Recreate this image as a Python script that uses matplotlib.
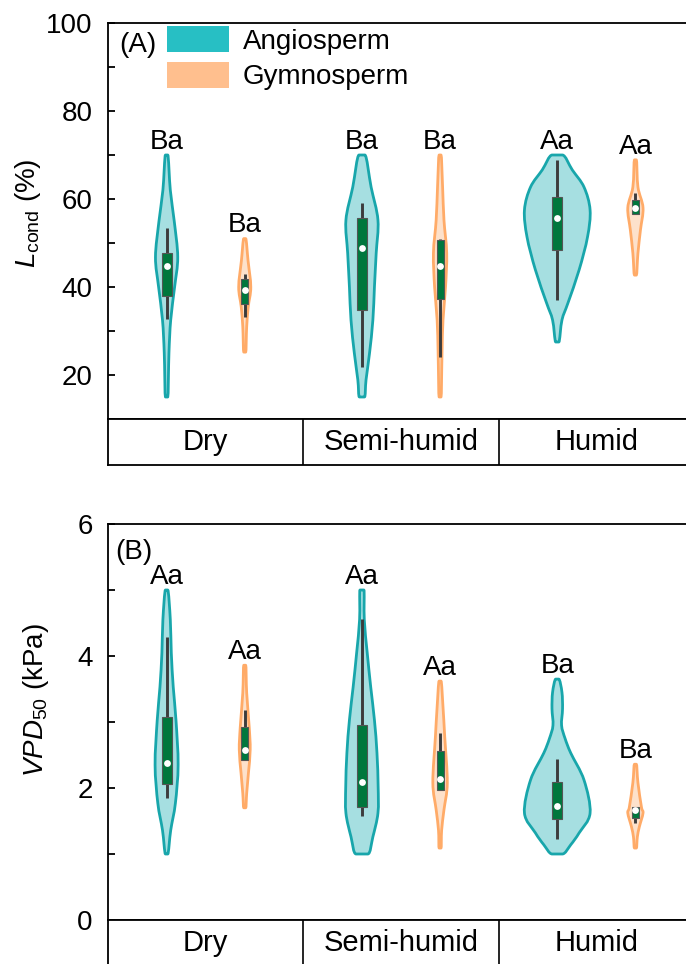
import matplotlib.pyplot as plt
import numpy as np
from matplotlib.path import Path
from matplotlib.patches import PathPatch, Patch
from matplotlib.ticker import MultipleLocator

plt.rcParams['font.family'] = ['Liberation Sans', 'DejaVu Sans']
plt.rcParams['mathtext.fontset'] = 'custom'
plt.rcParams['mathtext.rm'] = 'Liberation Sans'
plt.rcParams['mathtext.it'] = 'Liberation Sans:italic'

climates = ['Dry', 'Semi-humid', 'Humid']
groups = ['Angiosperm', 'Gymnosperm']

# order of violins: Dry-A, Dry-G, Semi-A, Semi-G, Humid-A, Humid-G
# density outline: levels and half widths
lcond_prof_y = [
    [15, 25, 32.5, 40, 46.8, 55, 62, 70],
    [25.2, 31, 35.5, 40, 46, 51],
    [15, 18.9, 25, 32.5, 40, 47.7, 55.2, 62.7, 70],
    [15, 25, 32.5, 40, 47.7, 55.2, 62.7, 70],
    [27.5, 32.5, 36.4, 43.9, 51.4, 57.5, 62.7, 66.6, 70],
    [42.7, 47.7, 53, 58, 62.7, 68.9],
]
lcond_prof_w = [
    [0.006, 0.012, 0.021, 0.041, 0.057, 0.039, 0.019, 0.006],
    [0.005, 0.01, 0.018, 0.031, 0.017, 0.005],
    [0.013, 0.021, 0.039, 0.056, 0.064, 0.073, 0.082, 0.047, 0.015],
    [0.005, 0.01, 0.015, 0.028, 0.034, 0.02, 0.013, 0.005],
    [0.008, 0.024, 0.055, 0.112, 0.155, 0.168, 0.137, 0.077, 0.026],
    [0.005, 0.013, 0.026, 0.039, 0.013, 0.005],
]
lcond_q1 = [38, 36.1, 34.8, 37.3, 48.4, 56.6]
lcond_q3 = [47.7, 41.8, 55.7, 50.7, 60.5, 59.8]
lcond_lo = [32.7, 33.2, 21.8, 24, 37, 56.6]
lcond_hi = [53.4, 43, 59, 50.9, 68.9, 61.4]
lcond_med = [44.8, 39.3, 48.9, 44.8, 55.7, 58]
lcond_sig = ['Ba', 'Ba', 'Ba', 'Ba', 'Aa', 'Aa']

vpd_prof_y = [
    [1.0, 1.36, 1.77, 2.35, 3.03, 3.53, 4.05, 4.55, 5.0],
    [1.70, 1.92, 2.23, 2.58, 2.92, 3.44, 3.86],
    [1.0, 1.26, 1.62, 2.02, 2.53, 3.03, 3.53, 4.05, 4.55, 5.0],
    [1.09, 1.36, 1.67, 2.08, 2.77, 3.23, 3.62],
    [1.0, 1.14, 1.32, 1.62, 2.12, 2.53, 2.75, 2.95, 3.2, 3.45, 3.65],
    [1.09, 1.26, 1.41, 1.62, 1.71, 2.08, 2.36],
]
vpd_prof_w = [
    [0.006, 0.021, 0.045, 0.059, 0.048, 0.034, 0.024, 0.019, 0.006],
    [0.005, 0.01, 0.019, 0.028, 0.023, 0.01, 0.005],
    [0.03, 0.056, 0.082, 0.083, 0.077, 0.064, 0.045, 0.027, 0.012, 0.01],
    [0.005, 0.008, 0.02, 0.037, 0.024, 0.015, 0.005],
    [0.026, 0.069, 0.112, 0.168, 0.137, 0.069, 0.04, 0.022, 0.027, 0.024, 0.008],
    [0.005, 0.01, 0.02, 0.039, 0.031, 0.013, 0.005],
]
vpd_q1 = [2.06, 2.42, 1.71, 1.97, 1.53, 1.55]
vpd_q3 = [3.08, 2.92, 2.95, 2.56, 2.09, 1.71]
vpd_lo = [1.85, 2.42, 1.58, 1.97, 1.23, 1.47]
vpd_hi = [4.29, 3.18, 4.56, 2.83, 2.44, 1.71]
vpd_med = [2.38, 2.58, 2.09, 2.14, 1.73, 1.66]
vpd_sig = ['Aa', 'Aa', 'Aa', 'Aa', 'Ba', 'Ba']

edge_c = ['#18a6ab', '#ffab68']
fill_c = ['#a6dfe1', '#fde1cb']
leg_c = ['#27bfc4', '#ffbf8e']
box_c = '#00773d'
whisk_c = '#3c3c3c'
box_w = [0.052, 0.036]
FS = 20


def violin_path(c, ys, ws):
    ys, ws = np.asarray(ys, float), np.asarray(ws, float)
    pts = np.vstack([np.column_stack([c + ws, ys]),
                     np.column_stack([c - ws[::-1], ys[::-1]])])
    n, m = len(pts), len(ys)
    tan = (np.roll(pts, -1, 0) - np.roll(pts, 1, 0)) / 2
    for k in (0, m - 1, m, n - 1):
        tan[k, 1] = 0  # flat at the tips
    verts = [pts[0]]
    codes = [Path.MOVETO]
    for i in range(n):
        j = (i + 1) % n
        verts += [pts[i] + tan[i] / 3, pts[j] - tan[j] / 3, pts[j]]
        codes += [Path.CURVE4] * 3
    verts.append(pts[0])
    codes.append(Path.CLOSEPOLY)
    return Path(verts, codes)


def draw_panel(ax, py, pw, q1, q3, lo, hi, med, sig):
    pos = [i + off for i in range(3) for off in (0.3, 0.7)]
    for k, p in enumerate(pos):
        g = k % 2
        ax.add_patch(PathPatch(violin_path(p, py[k], pw[k]), facecolor=fill_c[g],
                               edgecolor=edge_c[g], lw=2.0, joinstyle='round',
                               capstyle='round', zorder=2))
        ax.vlines(p, lo[k], hi[k], color=whisk_c, lw=2.1, zorder=3)
        ax.bar(p, q3[k] - q1[k], bottom=q1[k], width=box_w[g], color=box_c,
               edgecolor='#555555', lw=0.8, zorder=4)
        ax.scatter(p, med[k], s=24, color='white', zorder=6, linewidths=0)
        ax.annotate(sig[k], (p, max(py[k])), xytext=(0, 4.5), textcoords='offset points',
                    ha='center', va='baseline', fontsize=FS)
    ax.set_xlim(0, 3)
    ax.set_xticks([])
    ax.tick_params(axis='y', which='both', direction='in', length=5, width=1.3,
                   labelsize=FS, pad=11, right=False)
    for s in ax.spines.values():
        s.set_linewidth(1.3)


def draw_cats(cax):
    cax.set_xlim(0, 3)
    cax.set_ylim(0, 1)
    cax.set_xticks([])
    cax.set_yticks([])
    for x in (1, 2):
        cax.axvline(x, color='black', lw=1.2)
    for i, name in enumerate(climates):
        cax.text(i + 0.5, 0.5, name, ha='center', va='center', fontsize=21)
    for s in cax.spines.values():
        s.set_linewidth(1.3)


W, H = 686, 964


def fbox(l, t, r, b):
    return [l / W, 1 - b / H, (r - l) / W, (b - t) / H]


fig = plt.figure(figsize=(6.86, 9.64), dpi=100)
axA = fig.add_axes(fbox(108, 23, 694, 419))
cA = fig.add_axes(fbox(108, 419, 694, 465))
axB = fig.add_axes(fbox(108, 524, 694, 920))
cB = fig.add_axes(fbox(108, 920, 694, 966))

draw_panel(axA, lcond_prof_y, lcond_prof_w, lcond_q1, lcond_q3, lcond_lo, lcond_hi,
           lcond_med, lcond_sig)
axA.set_ylim(10, 100)
axA.yaxis.set_major_locator(MultipleLocator(20))
axA.yaxis.set_minor_locator(MultipleLocator(10))
axA.set_yticks([20, 40, 60, 80, 100])
axA.text(0.02, 0.945, '(A)', transform=axA.transAxes, fontsize=FS, va='center')

draw_panel(axB, vpd_prof_y, vpd_prof_w, vpd_q1, vpd_q3, vpd_lo, vpd_hi,
           vpd_med, vpd_sig)
axB.set_ylim(0, 6)
axB.yaxis.set_major_locator(MultipleLocator(2))
axB.yaxis.set_minor_locator(MultipleLocator(1))
axB.text(0.012, 0.93, '(B)', transform=axB.transAxes, fontsize=FS, va='center')

draw_cats(cA)
draw_cats(cB)

handles = [Patch(facecolor=leg_c[i], edgecolor='none') for i in range(2)]
axA.legend(handles, groups, loc='upper left', bbox_to_anchor=(167 / W, 1 - 26 / H),
           bbox_transform=fig.transFigure, frameon=False, fontsize=FS, borderpad=0,
           borderaxespad=0, handlelength=2.23, handleheight=1.08, handletextpad=0.5,
           labelspacing=0.25)

fig.text(28 / W, 1 - 213 / H, r'$L_{\mathrm{cond}}$ (%)', rotation=90,
         ha='center', va='center', fontsize=FS)
fig.text(36 / W, 1 - 700 / H, r'$VPD_{\mathrm{50}}$ (kPa)', rotation=90,
         ha='center', va='center', fontsize=FS)

fig.savefig('out.png', dpi=100)
